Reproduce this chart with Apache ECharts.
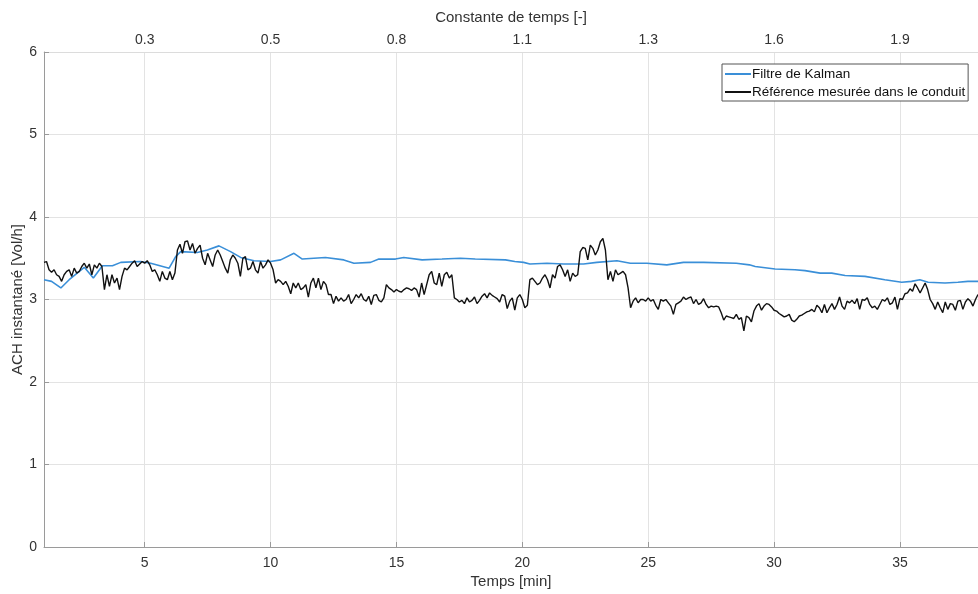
<!DOCTYPE html>
<html>
<head>
<meta charset="utf-8">
<script src="https://cdn.jsdelivr.net/npm/echarts@6/dist/echarts.min.js"></script>
<style>
html,body{margin:0;padding:0;background:#fff;}
#chart{width:978px;height:594px;}
</style>
</head>
<body>
<div id="chart"></div>
<script>
// ---- data ----
var xTicks = [5, 10, 15, 20, 25, 30, 35];
var topTickLabels = ['0.3', '0.5', '0.8', '1.1', '1.3', '1.6', '1.9'];
var yTicks = [0, 1, 2, 3, 4, 5, 6];

// Kalman filter estimate (time [min], ACH)
var kalmanT = [1.0, 1.3, 1.67, 2.0, 2.6, 2.96, 3.32, 3.72, 4.05, 4.84, 5.24, 5.97, 6.23, 6.43, 7.09, 7.49, 7.95, 8.41, 8.81, 9.34, 10.0, 10.4, 10.93, 11.26, 12.18, 12.91, 13.31, 13.97, 14.3, 14.96, 15.29, 16.02, 16.81, 17.54, 18.13, 19.33, 19.7, 20.05, 20.3, 20.98, 21.64, 22.43, 22.96, 23.76, 24.29, 24.95, 25.74, 26.4, 27.2, 28.5, 29.02, 29.25, 30.04, 30.83, 31.23, 31.83, 32.29, 32.82, 33.61, 34.4, 35.07, 35.46, 35.79, 36.12, 36.79, 37.3, 37.7, 38.1];
var kalmanV = [3.24, 3.22, 3.14, 3.24, 3.39, 3.26, 3.41, 3.41, 3.45, 3.46, 3.44, 3.38, 3.52, 3.58, 3.57, 3.60, 3.65, 3.58, 3.51, 3.47, 3.46, 3.48, 3.56, 3.49, 3.51, 3.48, 3.44, 3.45, 3.49, 3.49, 3.51, 3.48, 3.49, 3.50, 3.49, 3.48, 3.46, 3.45, 3.43, 3.44, 3.43, 3.43, 3.45, 3.47, 3.44, 3.44, 3.42, 3.45, 3.45, 3.44, 3.42, 3.40, 3.37, 3.36, 3.35, 3.32, 3.32, 3.29, 3.28, 3.24, 3.21, 3.22, 3.24, 3.21, 3.20, 3.21, 3.22, 3.22];

// Measured reference, sampled every 0.1 min starting at 1.0 min
var refStart = 1.0;
var refStep = 0.1;
var refV = [
3.45,3.46,3.36,3.33,3.36,3.30,3.28,3.22,3.30,3.34,
3.36,3.28,3.38,3.32,3.34,3.40,3.44,3.38,3.43,3.30,
3.42,3.38,3.44,3.40,3.12,3.30,3.16,3.30,3.20,3.26,
3.12,3.28,3.38,3.36,3.40,3.44,3.47,3.40,3.43,3.46,
3.44,3.47,3.42,3.34,3.36,3.30,3.22,3.34,3.26,3.24,
3.34,3.24,3.32,3.60,3.67,3.56,3.70,3.71,3.60,3.68,
3.56,3.62,3.66,3.50,3.42,3.56,3.48,3.40,3.54,3.60,
3.54,3.46,3.38,3.32,3.48,3.54,3.50,3.44,3.28,3.50,
3.52,3.36,3.38,3.46,3.36,3.32,3.46,3.38,3.42,3.48,
3.44,3.36,3.20,3.24,3.22,3.18,3.22,3.16,3.07,3.20,
3.14,3.20,3.12,3.14,3.18,3.03,3.20,3.26,3.14,3.26,
3.12,3.22,3.18,3.06,3.06,2.95,3.04,2.98,3.02,2.98,
3.00,3.06,2.95,3.00,3.06,3.02,3.07,3.00,2.98,3.04,
2.94,3.05,3.06,2.99,2.97,3.02,3.18,3.14,3.12,3.09,
3.12,3.10,3.09,3.12,3.14,3.13,3.11,3.14,3.12,3.03,
3.20,3.06,3.18,3.30,3.34,3.20,3.18,3.32,3.16,3.30,
3.33,3.26,3.30,3.02,3.00,2.97,2.99,2.95,3.02,2.97,
2.99,3.03,2.95,2.99,3.04,3.07,3.02,3.08,3.05,3.03,
3.01,2.97,3.06,3.04,2.89,2.98,3.02,2.87,3.02,3.06,
3.00,2.90,2.93,3.24,3.26,3.22,3.18,3.20,3.26,3.30,
3.24,3.14,3.30,3.26,3.40,3.42,3.36,3.28,3.36,3.22,
3.32,3.28,3.30,3.58,3.63,3.62,3.48,3.66,3.62,3.54,
3.60,3.70,3.74,3.60,3.24,3.34,3.22,3.36,3.30,3.32,
3.34,3.30,3.14,2.90,2.98,3.02,2.96,3.00,3.00,2.98,
3.02,2.98,3.00,2.93,2.88,3.00,2.98,3.00,2.96,2.92,
2.82,2.94,2.96,2.98,3.03,3.00,3.02,3.03,2.95,3.00,
2.94,2.96,3.01,2.94,2.90,2.92,2.91,2.92,2.91,2.84,
2.75,2.80,2.79,2.78,2.77,2.82,2.76,2.78,2.62,2.80,
2.78,2.73,2.86,2.92,2.95,2.87,2.92,2.95,2.94,2.91,
2.87,2.86,2.83,2.81,2.79,2.80,2.82,2.75,2.73,2.76,
2.80,2.81,2.83,2.85,2.86,2.88,2.85,2.93,2.90,2.84,
2.94,2.84,2.90,2.95,2.88,2.94,3.03,2.92,2.88,2.98,
2.96,2.99,2.95,3.01,2.88,3.00,2.99,3.02,2.94,2.90,
2.92,2.88,2.94,3.00,2.98,3.02,2.94,2.96,3.03,2.88,
3.01,3.00,3.07,3.08,3.13,3.10,3.19,3.14,3.08,3.14,
3.20,3.12,3.00,2.95,2.88,2.97,2.90,2.84,2.97,2.88,
2.95,2.94,2.87,2.98,2.99,2.88,2.97,3.01,2.98,2.92,
3.00,3.06
];

var xMin = 1, xMax = 38.1, yMin = 0, yMax = 6;

// ---- build ----
var kalmanData = kalmanT.map(function (t, i) { return [t, kalmanV[i]]; });
var refData = refV.map(function (v, i) { return [+(refStart + i * refStep).toFixed(2), v]; });

var FONT = 'Liberation Sans, Arial, Helvetica, sans-serif';
var TXT = '#333333';

var chart = echarts.init(document.getElementById('chart'), null, {renderer: 'canvas'});
chart.setOption({
  animation: false,
  backgroundColor: '#ffffff',
  textStyle: {fontFamily: FONT},
  grid: {left: 44, right: 0, top: 52, bottom: 47, containLabel: false, outerBoundsMode: 'none'},
  legend: {
    orient: 'vertical',
    left: 722, top: 64,
    backgroundColor: '#ffffff',
    borderColor: '#555555', borderWidth: 1, borderRadius: 0,
    padding: [3, 3, 2, 2],
    itemWidth: 26, itemHeight: 13, itemGap: 4,
    itemStyle: {opacity: 0},
    textStyle: {fontFamily: FONT, fontSize: 13.5, color: '#111', padding: [0, 0, 0, -4]},
    data: ['Filtre de Kalman', 'Référence mesurée dans le conduit']
  },
  xAxis: [{
    type: 'value', position: 'bottom', min: xMin, max: xMax,
    name: 'Temps [min]', nameLocation: 'middle', nameGap: 27, nameMoveOverlap: false,
    nameTextStyle: {fontFamily: FONT, fontSize: 15, color: TXT},
    axisLine: {show: true, onZero: false, lineStyle: {color: '#9a9a9a', width: 1}},
    axisTick: {show: true, inside: true, length: 5, customValues: xTicks, lineStyle: {color: '#9a9a9a'}},
    axisLabel: {show: true, customValues: xTicks, margin: 9, fontFamily: FONT, fontSize: 14, color: TXT},
    splitLine: {show: true, lineStyle: {color: '#e3e3e3', width: 1}}
  }, {
    type: 'value', position: 'top', min: xMin, max: xMax,
    name: 'Constante de temps [-]', nameLocation: 'middle', nameGap: 27, nameMoveOverlap: false,
    nameTextStyle: {fontFamily: FONT, fontSize: 15, color: TXT},
    axisLine: {show: true, onZero: false, lineStyle: {color: '#dcdcdc', width: 1}},
    axisTick: {show: false, customValues: xTicks},
    axisLabel: {show: true, customValues: xTicks, margin: 5, fontFamily: FONT, fontSize: 14, color: TXT,
      formatter: function (v) { var i = xTicks.indexOf(Math.round(v)); return i >= 0 ? topTickLabels[i] : ''; }},
    splitLine: {show: false}
  }],
  yAxis: [{
    type: 'value', min: yMin, max: yMax, interval: 1,
    name: 'ACH instantané [Vol/h]', nameLocation: 'middle', nameGap: 19, nameMoveOverlap: false,
    nameTextStyle: {fontFamily: FONT, fontSize: 15, color: TXT},
    axisLine: {show: true, lineStyle: {color: '#9a9a9a', width: 1}},
    axisTick: {show: true, inside: true, length: 5, lineStyle: {color: '#9a9a9a'}},
    axisLabel: {show: true, margin: 7, fontFamily: FONT, fontSize: 14, color: TXT},
    splitLine: {show: true, lineStyle: {color: '#e3e3e3', width: 1}}
  }],
  series: [{
    name: 'Filtre de Kalman', type: 'line', xAxisIndex: 0, data: kalmanData,
    symbol: 'none', showSymbol: false, smooth: false,
    lineStyle: {color: '#3a8fd8', width: 1.6}, itemStyle: {color: '#3a8fd8'}, z: 3
  }, {
    name: 'Référence mesurée dans le conduit', type: 'line', xAxisIndex: 0, data: refData,
    symbol: 'none', showSymbol: false, smooth: false,
    lineStyle: {color: '#111111', width: 1.4}, itemStyle: {color: '#111111'}, z: 4
  }]
});
</script>
</body>
</html>
